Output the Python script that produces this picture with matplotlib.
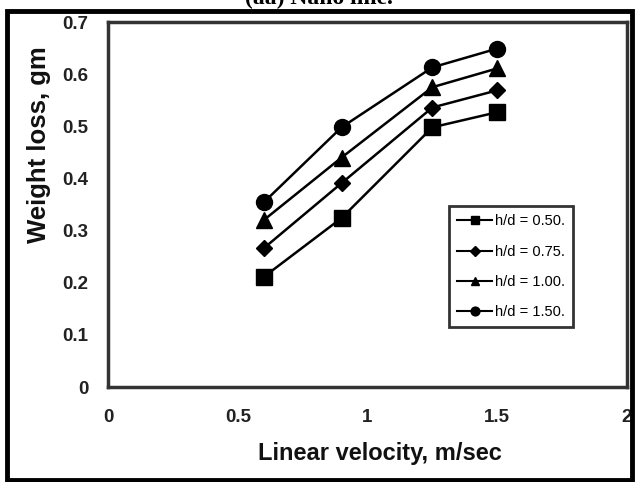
import matplotlib.pyplot as plt
from matplotlib.patches import Rectangle

velocity = [0.6, 0.9, 1.25, 1.5]
loss_050 = [0.211, 0.324, 0.498, 0.527]
loss_075 = [0.266, 0.391, 0.536, 0.569]
loss_100 = [0.320, 0.440, 0.575, 0.611]
loss_150 = [0.354, 0.498, 0.613, 0.649]
series = [(loss_050, 's', 'h/d = 0.50.', 11),
          (loss_075, 'D', 'h/d = 0.75.', 8.5),
          (loss_100, '^', 'h/d = 1.00.', 11),
          (loss_150, 'o', 'h/d = 1.50.', 11.5)]
xticks = [0, 0.5, 1, 1.5, 2]
yticks = [0, 0.1, 0.2, 0.3, 0.4, 0.5, 0.6, 0.7]

plt.rcParams['font.family'] = ['Liberation Sans', 'DejaVu Sans']

fig = plt.figure(figsize=(6.38, 4.82), dpi=100)
ax = fig.add_axes([108/638, 1-387/482, 519/638, 365/482])

for vals, m, lab, ms in series:
    ax.plot(velocity, vals, color='black', lw=1.8, marker=m, ms=ms, label=lab)

ax.set_xlim(0, 2)
ax.set_ylim(0, 0.7)
ax.set_xticks(xticks)
ax.set_xticklabels(['0', '0.5', '1', '1.5', '2'])
ax.set_yticks(yticks)
ax.set_yticklabels(['0', '0.1', '0.2', '0.3', '0.4', '0.5', '0.6', '0.7'])
ax.tick_params(length=0, labelsize=13.5, colors='#222222', pad=16)
ax.tick_params(axis='y', pad=14)
for lbl in ax.get_xticklabels() + ax.get_yticklabels():
    lbl.set_fontweight('bold')
for sp in ax.spines.values():
    sp.set_linewidth(2.5)
    sp.set_color('#333333')

ax.set_xlabel('Linear velocity, m/sec', fontsize=17, fontweight='bold', color='#111111')
ax.set_ylabel('Weight loss, gm', fontsize=18.5, fontweight='bold', color='#111111')
ax.xaxis.set_label_coords(0.524, -0.152)
ax.yaxis.set_label_coords(-0.110, 0.663)

leg = ax.legend(loc='upper left', bbox_to_anchor=(0.657, 0.495), fontsize=10.5,
                frameon=True, fancybox=False, markerscale=0.55, handlelength=2.4,
                handletextpad=0.2, labelspacing=1.12, borderpad=0.55, borderaxespad=0)
leg.get_frame().set_edgecolor('black')
leg.get_frame().set_linewidth(2)
for h in leg.get_lines():
    h.set_linewidth(1.5)

fig.patches.append(Rectangle((7/638, 2/482), 625/638, 469/482, transform=fig.transFigure,
                             fill=False, edgecolor='black', linewidth=3.5))
fig.text(0.5, 1.004, '(aa) Nano line.', ha='center', va='center', fontsize=17,
         fontweight='bold', family='Liberation Serif')

fig.savefig('out.png', dpi=100)
